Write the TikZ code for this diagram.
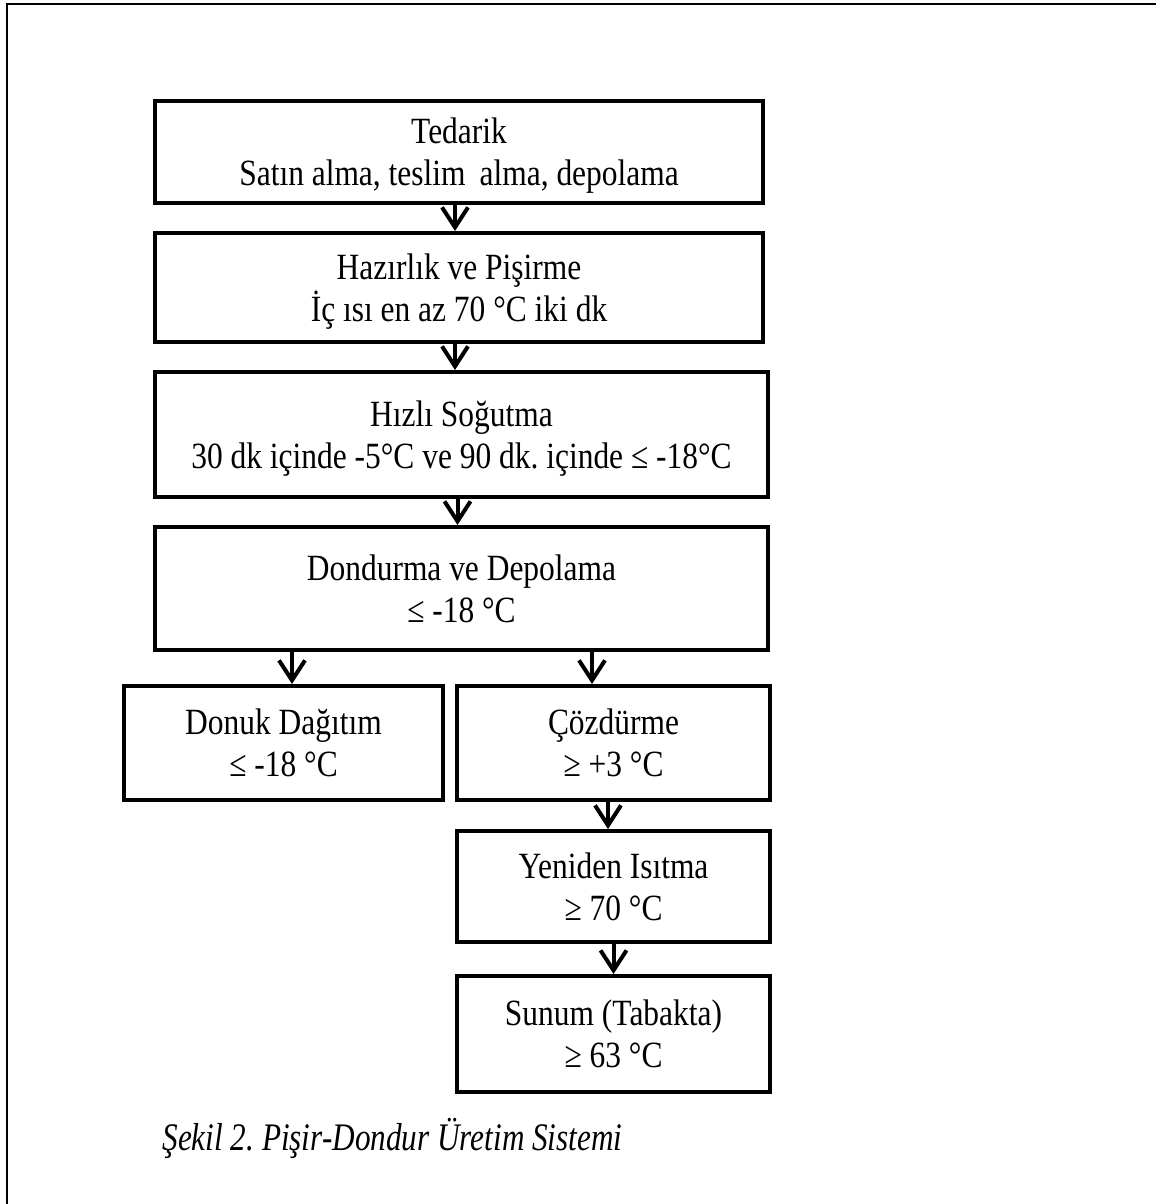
\documentclass[tikz,border=0pt]{standalone}
\usepackage{fontspec}
\setmainfont{Liberation Serif}[FakeStretch=0.85]
\usetikzlibrary{arrows.meta}
\frenchspacing

\tikzset{
    kutu/.style={draw, rectangle, line width=2pt, align=center, inner sep=0pt,
        text depth=0pt, font=\fontsize{18.5}{21}\selectfont},
    ok/.style={line width=2pt, -{Straight Barb[length=10pt, width=13pt]}},
}

\begin{document}
\begin{tikzpicture}[x=0.5pt, y=-0.5pt]
            \useasboundingbox (0,0) rectangle (1156,1204);
            \draw[line width=1.2pt] (7,1204) -- (7,4) -- (1156,4);

            \node[kutu, minimum width=304pt, minimum height=51pt] (tedarik) at (459,152)
                {Tedarik\\Satın alma, teslim\, alma, depolama};
            \node[kutu, minimum width=304pt, minimum height=54.5pt] (hazirlik) at (459,287.5)
                {Hazırlık ve Pişirme\\İç ısı en az 70 °C iki dk};
            \node[kutu, minimum width=306.5pt, minimum height=62.5pt] (sogutma) at (461.5,434.5)
                {Hızlı Soğutma\\30 dk içinde -5°C ve 90 dk. içinde ≤ -18°C};
            \node[kutu, minimum width=306.5pt, minimum height=61.5pt] (dondurma) at (461.5,588.5)
                {Dondurma ve Depolama\\≤ -18 °C};

            \node[kutu, minimum width=159.5pt, minimum height=57pt] (donuk) at (283.5,743)
                {Donuk Dağıtım\\≤ -18 °C};
            \node[kutu, minimum width=156.5pt, minimum height=57pt] (cozdurme) at (613.5,743)
                {Çözdürme\\≥ +3 °C};
            \node[kutu, minimum width=156.5pt, minimum height=55.5pt] (isitma) at (613.5,886.5)
                {Yeniden Isıtma\\≥ 70 °C};
            \node[kutu, minimum width=156.5pt, minimum height=58pt] (sunum) at (613.5,1034)
                {Sunum (Tabakta)\\≥ 63 °C};

            \draw[ok] ([xshift=-2pt]tedarik.south) -- ([xshift=-2pt]hazirlik.north);
            \draw[ok] ([xshift=-2pt]hazirlik.south) -- ([xshift=-2pt]hazirlik.south |- sogutma.north);
            \draw[ok] ([xshift=-2pt]sogutma.south) -- ([xshift=-2pt]dondurma.north);
            \draw[ok] ([xshift=4.25pt]donuk.north |- dondurma.south) -- ([xshift=4.25pt]donuk.north);
            \draw[ok] ([xshift=-10.75pt]cozdurme.north |- dondurma.south) -- ([xshift=-10.75pt]cozdurme.north);
            \draw[ok] ([xshift=-2.75pt]cozdurme.south) -- ([xshift=-2.75pt]isitma.north);
            \draw[ok] (isitma.south) -- (sunum.north);

            \node[anchor=base west, inner sep=0pt,
                font=\fontsize{19.5}{22}\selectfont\itshape\addfontfeature{FakeStretch=0.8}]
                (baslik) at (162,1150) {Şekil 2. Pişir-Dondur Üretim Sistemi};
\end{tikzpicture}
\end{document}
